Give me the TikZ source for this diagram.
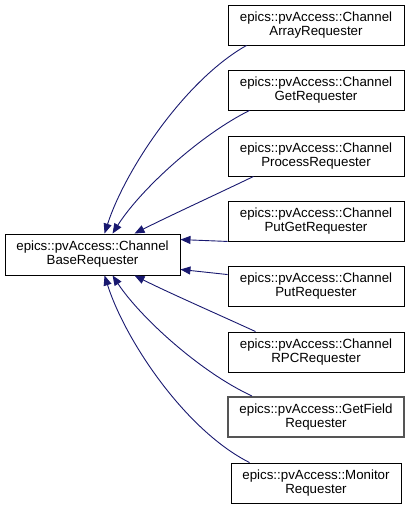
\documentclass[tikz,border=0pt]{standalone}
\usepackage{fontspec}
\setmainfont{Liberation Sans}
\usetikzlibrary{arrows.meta}
\definecolor{edgeblue}{RGB}{25,25,112}
\definecolor{graybox}{RGB}{85,85,85}
\begin{document}
\begin{tikzpicture}[x=1pt,y=-1pt,
  cls/.style={draw=black,line width=0.9pt,fill=white,inner sep=0pt,align=center,
    minimum width=176pt,minimum height=40pt,font=\fontsize{13.3}{14}\selectfont},
  inh/.style={draw=edgeblue,line width=0.9pt,-{Triangle[length=10pt,width=8pt,fill=edgeblue]}}]
\useasboundingbox (0,0) rectangle (409,509);
\node[cls,minimum width=175pt,minimum height=41pt] (base) at (92.5,254.5) {epics::pvAccess::Channel\\BaseRequester};
\node[cls] (arr) at (316,25) {epics::pvAccess::Channel\\ArrayRequester};
\node[cls] (get) at (316,90) {epics::pvAccess::Channel\\GetRequester};
\node[cls] (proc) at (316,156) {epics::pvAccess::Channel\\ProcessRequester};
\node[cls] (pg) at (316,221) {epics::pvAccess::Channel\\PutGetRequester};
\node[cls] (put) at (316,286) {epics::pvAccess::Channel\\PutRequester};
\node[cls] (rpc) at (316,352) {epics::pvAccess::Channel\\RPCRequester};
\node[cls,draw=graybox,line width=2pt] (gf) at (316,417) {epics::pvAccess::GetField\\Requester};
\node[cls,minimum width=170pt] (mon) at (316,483) {epics::pvAccess::Monitor\\Requester};

\draw[inh] ([xshift=19pt]arr.south west) .. controls (185,80) and (125,170) .. ([xshift=100pt]base.north west);
\draw[inh] ([xshift=22pt]get.south west) .. controls (200,135) and (140,190) .. ([xshift=108pt]base.north west);
\draw[inh] ([xshift=26pt]proc.south west) .. controls (215,195) and (165,218) .. ([xshift=130pt]base.north west);
\draw[inh] (pg.south west) -- ([yshift=-6pt]base.north east);
\draw[inh] ([yshift=-9pt]put.north west) -- ([yshift=6pt]base.south east);
\draw[inh] ([xshift=28pt]rpc.north west) .. controls (215,313) and (165,291) .. ([xshift=130pt]base.south west);
\draw[inh] ([xshift=25pt]gf.north west) .. controls (200,372) and (140,317) .. ([xshift=108pt]base.south west);
\draw[inh] ([xshift=19pt]mon.north west) .. controls (185,430) and (125,340) .. ([xshift=100pt]base.south west);
\end{tikzpicture}
\end{document}
